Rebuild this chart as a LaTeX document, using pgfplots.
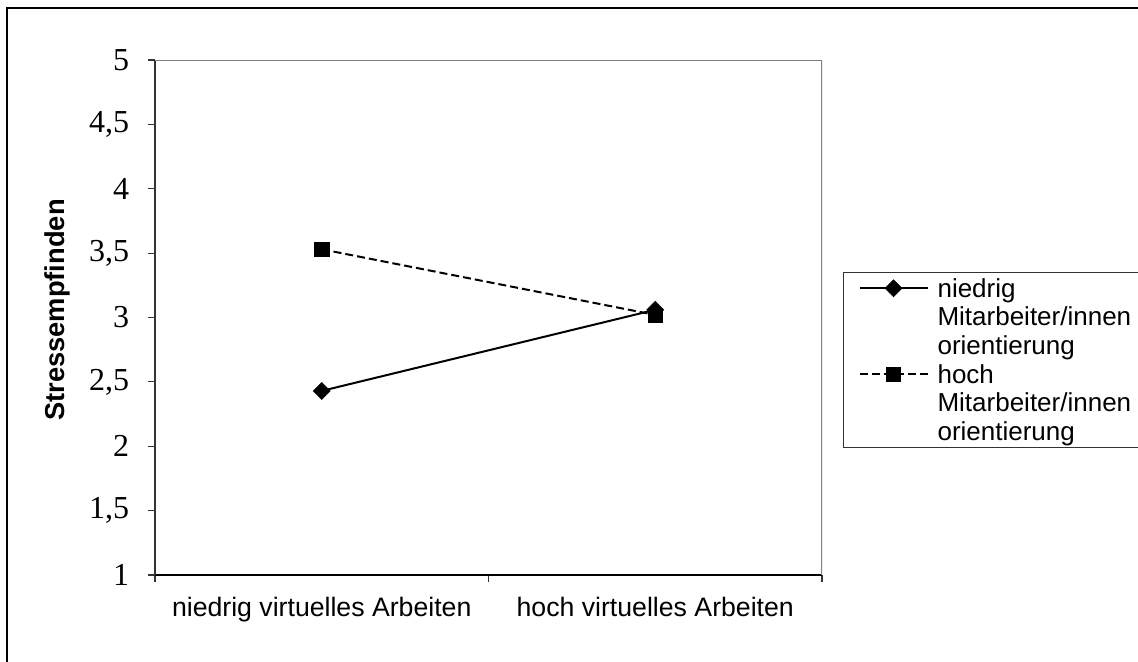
\documentclass[border=0pt]{standalone}
\usepackage{fontspec}
\setmainfont{Liberation Sans}
\newfontfamily\timesfont{Liberation Serif}
\usepackage{pgfplots}
\pgfplotsset{compat=1.18}
\begin{document}
\begin{tikzpicture}
\useasboundingbox (0,0) rectangle (853.5pt,-495.75pt);
\clip (0,0) rectangle (853.5pt,-495.75pt);
\fill[white] (0,0) rectangle (853.5pt,-495.75pt);
\draw[line width=1.6pt] (5.25pt,-500pt) -- (5.25pt,-6pt) -- (860pt,-6pt);
\begin{axis}[
  at={(116.25pt,-431.25pt)}, anchor=south west,
  scale only axis, width=500.25pt, height=386.25pt,
  xmin=0, xmax=2, ymin=1, ymax=5,
  axis x line*=bottom, axis y line*=left,
  x axis line style={black, line width=1pt, -},
  y axis line style={black!80, line width=1pt, -},
  tick align=outside, major tick length=5.25pt,
  tick style={black!80, line width=0.8pt},
  xtick={0,1,2}, xticklabels={,,},
  extra x ticks={0.5,1.5},
  extra x tick labels={niedrig virtuelles Arbeiten, hoch virtuelles Arbeiten},
  extra x tick style={major tick length=0pt, tick style={draw=none},
    xticklabel style={inner sep=0pt, anchor=north, yshift=-16.5pt, font=\fontsize{20}{24}\selectfont}},
  ytick={1,1.5,2,2.5,3,3.5,4,4.5,5},
  /pgf/number format/use comma,
  /pgf/number format/assume math mode=true,
  yticklabel style={font=\timesfont\fontsize{24}{28}\selectfont, inner sep=0pt, anchor=east},
  yticklabel shift=14pt,
  ylabel={\bfseries Stressempfinden},
  every axis y label/.style={at={(rel axis cs:-0.1462,0.5146)}, rotate=90, anchor=center,
    font=\fontsize{20.5}{24}\selectfont},
  legend cell align=left,
  legend image code/.code={\draw[mark repeat=2,mark phase=2,#1] plot coordinates {(0pt,0pt)(25.5pt,0pt)(51pt,0pt)};},
  legend style={at={(1.0315,0.5883)}, anchor=north west, draw=black!80, line width=0.8pt,
    font=\fontsize{19.5}{23}\selectfont, inner xsep=11.25pt, inner ysep=1pt,
    row sep=0pt, column sep=6.75pt,
    nodes={inner sep=0pt, text height=17.5pt, text depth=4pt}},
]
\draw[gray, line width=1.5pt] (rel axis cs:0,1) -- (rel axis cs:1,1) -- (rel axis cs:1,0);
\addplot[black, line width=1.5pt, mark=square*, mark options={solid, rotate=45, mark size=4.5pt, line width=0.4pt}]
  coordinates {(0.5,2.43) (1.5,3.06)};
\addlegendentry{niedrig}
\addlegendimage{empty legend}\addlegendentry{Mitarbeiter/innen}
\addlegendimage{empty legend}\addlegendentry{orientierung}
\addplot[black, line width=1.5pt, dash pattern=on 6pt off 3pt, mark=square*, mark options={solid, mark size=5.3pt, line width=0.4pt}]
  coordinates {(0.5,3.53) (1.5,3.02)};
\addlegendentry{hoch}
\addlegendimage{empty legend}\addlegendentry{Mitarbeiter/innen}
\addlegendimage{empty legend}\addlegendentry{orientierung}
\end{axis}
\end{tikzpicture}
\end{document}
